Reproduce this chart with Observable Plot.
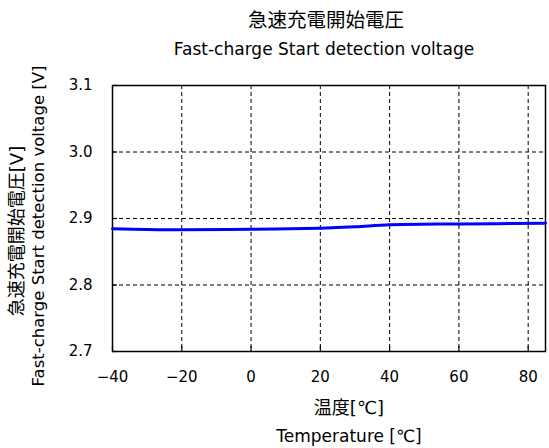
<!DOCTYPE html>
<html><head><meta charset="utf-8">
<script src="https://cdn.jsdelivr.net/npm/d3@7"></script>
<script src="https://cdn.jsdelivr.net/npm/@observablehq/plot@0.6"></script>
<style>body{margin:0;background:#fff}</style>
</head><body><div id="chart"></div>
<script>
const temps = [-40, -30, -20, 0, 20, 30, 40, 60, 85];
const volts = [2.8845, 2.8833, 2.8830, 2.8838, 2.8855, 2.8875, 2.8905, 2.8918, 2.8928];
const xTicks = [-40, -20, 0, 20, 40, 60, 80];
const yTicks = [2.7, 2.8, 2.9, 3.0, 3.1];
const titleJa = "急速充電開始電圧";
const titleEn = "Fast-charge Start detection voltage";
const yLabelJa = "急速充電開始電圧[V]";
const yLabelEn = "Fast-charge Start detection voltage [V]";
const xLabelJa = "温度[℃]";
const xLabelEn = "Temperature [℃]";

const data = temps.map((t, i) => ({t, v: volts[i]}));
const font = "'DejaVu Sans', 'Noto Sans CJK JP', sans-serif";

const plot = Plot.plot({
  width: 549, height: 448,
  marginLeft: 112, marginRight: 4, marginTop: 85, marginBottom: 97,
  style: {fontFamily: font, fontSize: "15px", color: "#000", background: "#fff"},
  x: {domain: [-40, 85]},
  y: {domain: [2.7, 3.1]},
  marks: [
    Plot.ruleX(xTicks.filter(d => d > -40), {stroke: "#000", strokeWidth: 1, strokeDasharray: "4,3"}),
    Plot.ruleY(yTicks.filter(d => d > 2.7 && d < 3.1), {stroke: "#000", strokeWidth: 1, strokeDasharray: "4,3"}),
    Plot.axisX({ticks: xTicks, tickSize: -5, tickFormat: () => "", label: null, strokeWidth: 1.2}),
    Plot.axisY({ticks: yTicks, tickSize: -5, tickFormat: () => "", label: null, strokeWidth: 1.2}),
    Plot.axisX({ticks: xTicks, tickSize: 0, tickPadding: 20, label: null, fontSize: 15,
      tickFormat: d => d < 0 ? "−" + Math.abs(d) : String(d)}),
    Plot.axisY({ticks: yTicks, tickSize: 0, tickPadding: 20, label: null, fontSize: 15,
      tickFormat: d3.format(".1f")}),
    Plot.frame({stroke: "#000", strokeWidth: 1.5}),
    Plot.line(data, {x: "t", y: "v", stroke: "#0000ff", strokeWidth: 3, curve: "catmull-rom"})
  ]
});
document.getElementById("chart").appendChild(plot);

const svg = d3.select(plot);
const addText = (txt, x, y, size, rot) => {
  const t = svg.append("text").text(txt)
    .attr("font-family", font).attr("font-size", size)
    .attr("text-anchor", "middle").attr("dominant-baseline", "middle").attr("fill", "#000");
  if (rot) t.attr("transform", `translate(${x},${y}) rotate(-90)`);
  else t.attr("x", x).attr("y", y);
};
addText(titleJa, 326, 21, 19.5);
addText(titleEn, 324, 50, 17);
addText(yLabelJa, 18, 231, 18, true);
addText(yLabelEn, 39, 226, 16.5, true);
addText(xLabelJa, 349, 409, 18);
addText(xLabelEn, 349, 437, 17);
</script></body></html>
